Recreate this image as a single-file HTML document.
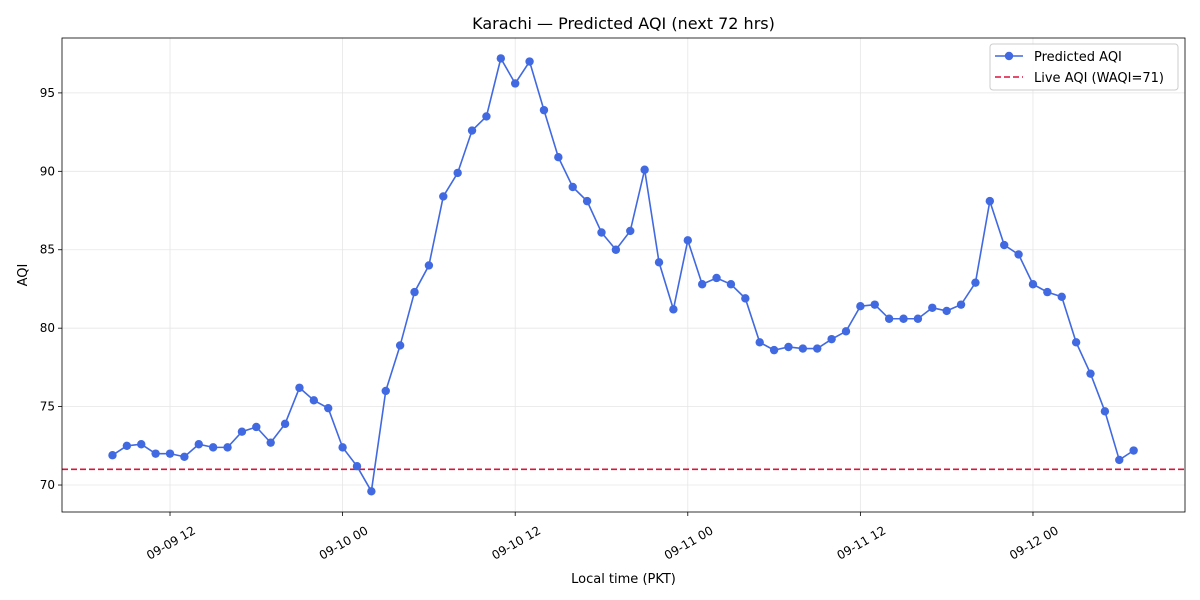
<!DOCTYPE html>
<html><head><meta charset="utf-8"><style>
body{margin:0;background:#fff;}
svg{display:block;font-family:"DejaVu Sans","Liberation Sans",sans-serif;}
</style></head><body>
<svg id="chart" width="1200" height="600" viewBox="0 0 1200 600"></svg>
<script>
const hours = [];
for (let h = 8; h < 80; h++) hours.push(h);
const aqiValues = [71.9,72.5,72.6,72.0,72.0,71.8,72.6,72.4,72.4,73.4,73.7,72.7,73.9,76.2,75.4,74.9,72.4,71.2,69.6,76.0,78.9,82.3,84.0,88.4,89.9,92.6,93.5,97.2,95.6,97.0,93.9,90.9,89.0,88.1,86.1,85.0,86.2,90.1,84.2,81.2,85.6,82.8,83.2,82.8,81.9,79.1,78.6,78.8,78.7,78.7,79.3,79.8,81.4,81.5,80.6,80.6,80.6,81.3,81.1,81.5,82.9,88.1,85.3,84.7,82.8,82.3,82.0,79.1,77.1,74.7,71.6,72.2];
const liveAQI = 71;
const yTicks = [70,75,80,85,90,95];
const xTickHours = [12,24,36,48,60,72];
const xTickLabels = ["09-09 12","09-10 00","09-10 12","09-11 00","09-11 12","09-12 00"];

const L=62,R=1185,T=38,B=512;
const xMin=4.49,xMax=82.57,yMin=68.28,yMax=98.5;
const X=h=>L+(h-xMin)/(xMax-xMin)*(R-L);
const Y=v=>B-(v-yMin)/(yMax-yMin)*(B-T);
const svg=document.getElementById('chart');
const NS='http://www.w3.org/2000/svg';
function mk(tag,attrs,parent){const e=document.createElementNS(NS,tag);for(const k in attrs)e.setAttribute(k,attrs[k]);(parent||svg).appendChild(e);return e;}

yTicks.forEach((v,i)=>{
  const g=mk('line',{x1:L,x2:R,y1:Y(v),y2:Y(v),stroke:'#e6e6e6','stroke-width':0.8});
  
  
  mk('line',{x1:L-4,x2:L,y1:Y(v),y2:Y(v),stroke:'#000','stroke-width':0.8});
  const t=mk('text',{x:L-7,y:Y(v)+4,'text-anchor':'end','font-size':12});
  t.textContent=v;
  
  
});
xTickHours.forEach((h,i)=>{
  const g=mk('line',{x1:X(h),x2:X(h),y1:T,y2:B,stroke:'#e6e6e6','stroke-width':0.8});
  
  
  mk('line',{x1:X(h),x2:X(h),y1:B,y2:B+4,stroke:'#000','stroke-width':0.8});
  const cx=X(h)+1, cy=B+31;
  const t=mk('text',{x:cx,y:cy+4,'text-anchor':'middle','font-size':12,transform:`rotate(-30 ${cx} ${cy})`});
  t.textContent=xTickLabels[i];
  
  
});

const ll=mk('line',{x1:L,x2:R,y1:Y(liveAQI),y2:Y(liveAQI),stroke:'#dc143c','stroke-width':1.6,'stroke-dasharray':'6,3'});



const pl=mk('polyline',{points:hours.map((h,i)=>X(h)+','+Y(aqiValues[i])).join(' '),fill:'none',stroke:'#4169e1','stroke-width':1.6});


hours.forEach((h,i)=>{
  const c=mk('circle',{cx:X(h),cy:Y(aqiValues[i]),r:4.2,fill:'#4169e1'});
  
  
});

const fr=mk('rect',{x:L,y:T,width:R-L,height:B-T,fill:'none',stroke:'#000','stroke-width':0.8});



const tt=mk('text',{x:(L+R)/2,y:29,'text-anchor':'middle','font-size':16});
tt.textContent='Karachi — Predicted AQI (next 72 hrs)';


const xt=mk('text',{x:(L+R)/2,y:583,'text-anchor':'middle','font-size':13});
xt.textContent='Local time (PKT)';


const yt=mk('text',{x:27,y:(T+B)/2,'text-anchor':'middle','font-size':13,transform:`rotate(-90 27 ${(T+B)/2})`});
yt.textContent='AQI';



const lg=mk('g',{});


mk('rect',{x:990,y:44,width:188,height:46,rx:3,fill:'#fff','fill-opacity':0.85,stroke:'#ccc'},lg);
mk('line',{x1:995,x2:1023,y1:56,y2:56,stroke:'#4169e1','stroke-width':1.6},lg);
mk('circle',{cx:1009,cy:56,r:4.2,fill:'#4169e1'},lg);
const l1=mk('text',{x:1034,y:61,'font-size':13},lg);l1.textContent='Predicted AQI';


mk('line',{x1:995,x2:1023,y1:77,y2:77,stroke:'#dc143c','stroke-width':1.6,'stroke-dasharray':'6,3'},lg);
const l2=mk('text',{x:1034,y:82,'font-size':13},lg);l2.textContent='Live AQI (WAQI=71)';


</script>
</body></html>
